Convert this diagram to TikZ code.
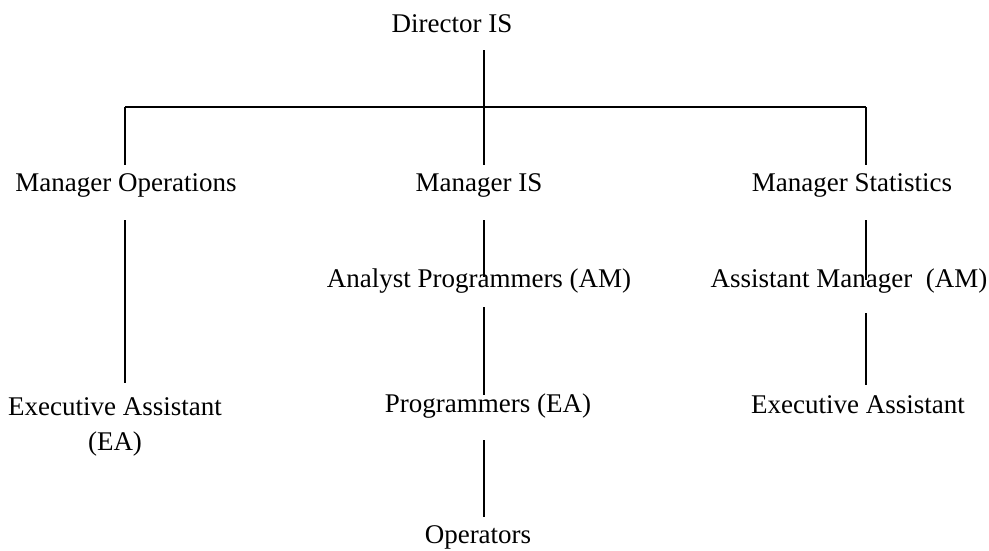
\documentclass[tikz,border=0pt]{standalone}
\usepackage{fontspec}
\setmainfont{Liberation Serif}
\usetikzlibrary{calc}
\tikzset{
  post/.style={anchor=base,inner sep=0pt,align=center},
  link/.style={line width=1.7pt},
}
\begin{document}
\begin{tikzpicture}[x=1pt,y=-1pt,font=\fontsize{27}{35}\selectfont]
\useasboundingbox (0,0) rectangle (989,550);
% posts
\node[post](dir) at (452,32){Director IS};
\node[post](mop) at (126,191){Manager Operations};
\node[post](mis) at (479,191){Manager IS};
\node[post](mst) at (852,191){Manager Statistics};
\node[post](ap) at (479,287){Analyst Programmers (AM)};
\node[post](am) at (849,287){Assistant Manager\ \ (AM)};
\node[post](eaop) at (115,450){Executive Assistant\\(EA)};
\node[post](pea) at (488,412){Programmers (EA)};
\node[post](sea) at (858,413){Executive Assistant};
\node[post](opr) at (478,543){Operators};
% junctions
\coordinate (top) at (484,107);
\coordinate (left) at (125,107);
\coordinate (right) at (866,107);
% lines
\draw[link]($(dir.base -| top)+(0,18)$)--(top);
\draw[link,line width=2.2pt](left)--(right);
\draw[link](left)--($(mop.base -| left)+(0,-26)$);
\draw[link](top)--($(mis.base -| top)+(0,-26)$);
\draw[link](right)--($(mst.base -| right)+(0,-26)$);
\draw[link]($(mop.base -| left)+(0,29)$)--($(eaop.base -| left)+(0,-67)$);
\draw[link]($(mis.base -| top)+(0,29)$)--($(ap.base -| top)+(0,-10)$);
\draw[link]($(ap.base -| top)+(0,20)$)--($(pea.base -| top)+(0,-17)$);
\draw[link]($(pea.base -| top)+(0,28)$)--($(opr.base -| top)+(0,-26)$);
\draw[link]($(mst.base -| right)+(0,29)$)--($(am.base -| right)+(0,-7)$);
\draw[link]($(am.base -| right)+(0,26)$)--($(sea.base -| right)+(0,-28)$);
\end{tikzpicture}
\end{document}
